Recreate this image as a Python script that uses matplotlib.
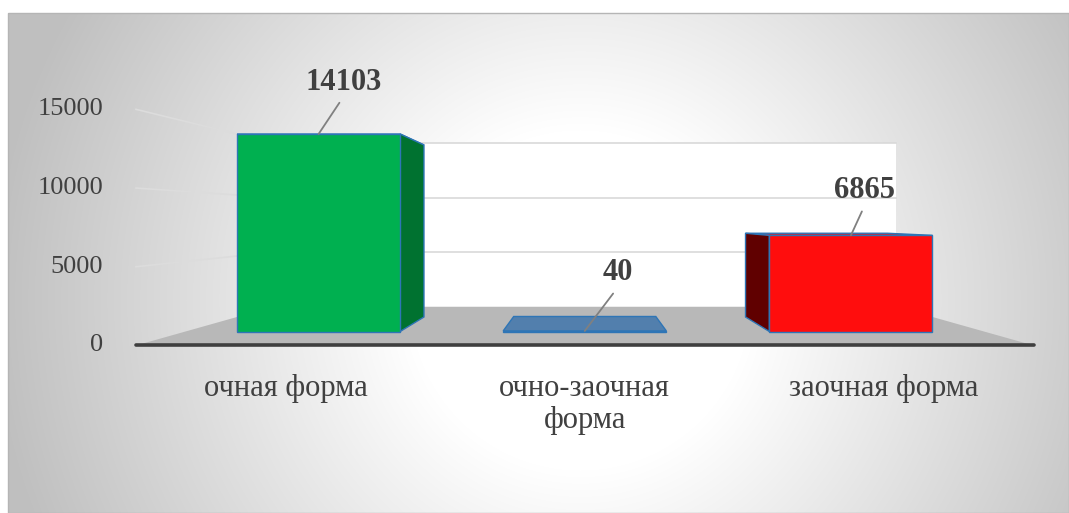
"""3D-style bar chart: students by form of study."""

import numpy as np
import matplotlib.pyplot as plt
from matplotlib.patches import Polygon, Rectangle

categories = ["очная форма", "очно-заочная\nформа", "заочная форма"]
values = [14103, 40, 6865]
front_colors = ["#00B050", "#527FAD", "#FF0D0D"]
side_colors = ["#007230", "#3E6790", "#600000"]
yticks = [0, 5000, 10000, 15000]

# label placement (pixels from bar top centre)
LABEL_OFFSETS = [(25, 52), (33, 58), (14, 45)]

W, H = 1069, 513
plt.rcParams["font.family"] = ["Liberation Serif", "DejaVu Serif"]

# perspective: planes scaled about a vanishing point (data coords of bar plane)
XV, VV = 1.0, 8033.0
K_FRONT, K_BACK, K_DEPTH = 1.124, 0.78, 0.871
BAR_W = 0.613
EDGE = "#2E75B6"


def proj(x, v, k):
    return (XV + k * (x - XV), VV + k * (v - VV))


fig = plt.figure(figsize=(W / 100, H / 100), dpi=100)

# background with radial gradient
bg = fig.add_axes([0, 0, 1, 1])
bg.set_xlim(0, W)
bg.set_ylim(H, 0)
bg.axis("off")
yy, xx = np.mgrid[13:H, 8:W]
d = np.hypot(xx - 580, yy - 300)
t = np.clip((d - 170) / (590 - 170), 0, 1)
shade = 1 - 0.25 * t
img = np.dstack([shade, shade, shade])
bg.imshow(img, extent=(8, W, H, 13), aspect="auto", interpolation="bilinear")
bg.add_patch(Rectangle((8, 13), W - 8, H - 13, fill=False, edgecolor="#b5b5b5", lw=1))

# bar plane axes
left, right, y0, y15 = 185.5, 984.0, 331.5, 121.44
ax = fig.add_axes([left / W, 1 - y0 / H, (right - left) / W, (y0 - y15) / H])
ax.set_xlim(-0.5, 2.5)
ax.set_ylim(0, 15000)
ax.axis("off")

# back wall
wall = [proj(-0.5, 0, K_BACK), proj(2.5, 0, K_BACK),
        proj(2.5, 15000, K_BACK), proj(-0.5, 15000, K_BACK)]
ax.add_patch(Polygon(wall, closed=True, facecolor="white", edgecolor="none",
                     clip_on=False, zorder=1))
for v in yticks[1:]:
    p1, p2 = proj(-0.5, v, K_BACK), proj(2.5, v, K_BACK)
    ax.plot([p1[0], p2[0]], [p1[1], p2[1]], color="#d9d9d9", lw=1.2,
            clip_on=False, zorder=2)
    # side wall
    q1 = proj(-0.5, v, K_FRONT)
    ax.plot([q1[0], p1[0]], [q1[1], p1[1]], color="#dcdcdc", lw=1.2,
            clip_on=False, zorder=2)

# floor
floor = [proj(-0.5, 0, K_FRONT), proj(2.5, 0, K_FRONT),
         proj(2.5, 0, K_BACK), proj(-0.5, 0, K_BACK)]
ax.add_patch(Polygon(floor, closed=True, facecolor="#b8b8b8", edgecolor="none",
                     clip_on=False, zorder=3))
f1, f2 = proj(-0.5, 0, K_FRONT), proj(2.5, 0, K_FRONT)
ax.plot([f1[0], f2[0]], [f1[1], f2[1]], color="#3f3f3f", lw=2.6,
        solid_capstyle="round", clip_on=False, zorder=4)

# bars: top, sides, front
x = np.arange(len(values))
for i, v in enumerate(values):
    xl, xr = x[i] - BAR_W / 2, x[i] + BAR_W / 2
    top = [(xl, v), (xr, v), proj(xr, v, K_DEPTH), proj(xl, v, K_DEPTH)]
    ax.add_patch(Polygon(top, closed=True, facecolor=front_colors[i],
                         edgecolor=EDGE, lw=1.0, clip_on=False, zorder=5))
    if xr < XV:
        side = [(xr, 0), (xr, v), proj(xr, v, K_DEPTH), proj(xr, 0, K_DEPTH)]
        ax.add_patch(Polygon(side, closed=True, facecolor=side_colors[i],
                             edgecolor=EDGE, lw=1.0, clip_on=False, zorder=6))
    if xl > XV:
        side = [(xl, 0), (xl, v), proj(xl, v, K_DEPTH), proj(xl, 0, K_DEPTH)]
        ax.add_patch(Polygon(side, closed=True, facecolor=side_colors[i],
                             edgecolor=EDGE, lw=1.0, clip_on=False, zorder=6))

ax.bar(x, values, width=BAR_W, color=front_colors, edgecolor=EDGE, lw=1.0,
       zorder=7, clip_on=False)

# data labels with leader lines
for i, v in enumerate(values):
    dx, dy = LABEL_OFFSETS[i]
    ax.annotate(f"{v}", xy=(x[i], v), xytext=(dx, dy), textcoords="offset pixels",
                ha="center", va="center", fontsize=22, fontweight="bold",
                color="#404040", zorder=9, annotation_clip=False,
                arrowprops=dict(arrowstyle="-", color="#808080", lw=1.3,
                                shrinkA=3, shrinkB=0, relpos=(0.5, 0)))

# value axis labels on front plane
for v in yticks:
    p = proj(-0.5, v, K_FRONT)
    ax.annotate(f"{v}", xy=p, xytext=(-33, 0), textcoords="offset pixels",
                ha="right", va="center", fontsize=19, color="#404040",
                annotation_clip=False)

# category labels
for i, lab in enumerate(categories):
    p = proj(x[i], 0, K_FRONT)
    ax.annotate(lab, xy=p, xytext=(0, -29), textcoords="offset pixels",
                ha="center", va="top", fontsize=22, color="#404040",
                linespacing=1.1, annotation_clip=False)

fig.savefig("out.png", dpi=100)
plt.close(fig)
